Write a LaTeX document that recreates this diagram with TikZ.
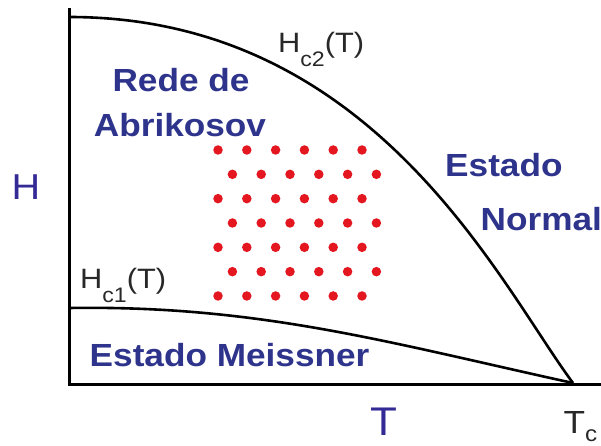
\documentclass[tikz,border=0pt]{standalone}
\usepackage{fontspec}
\setmainfont{Liberation Sans}
\definecolor{lbl}{RGB}{46,52,140}
\definecolor{axl}{RGB}{52,42,150}
\definecolor{dotred}{RGB}{228,22,32}
\definecolor{ink}{RGB}{40,40,40}
\newcommand{\wide}[1]{\scalebox{1.1}[1]{#1}}
\begin{document}
\begin{tikzpicture}[x=1pt,y=-1pt,
  phase/.style={font=\fontsize{32}{38}\selectfont\bfseries, text=lbl, inner sep=0pt},
  curvelbl/.style={font=\fontsize{28}{32}\selectfont, text=ink, inner sep=0pt},
  axislbl/.style={text=axl, inner sep=0pt},
  axisline/.style={line width=3pt, black},
  boundary/.style={line width=2.6pt, black},
  vortex/.style={circle, fill=dotred, inner sep=0pt, minimum size=9.5pt}]
\useasboundingbox (0,0) rectangle (601,446);
\fill[white] (0,0) rectangle (601,446);
% axes
\coordinate (ytop) at (69,8);
\coordinate (origin) at (69,384);
\coordinate (xend) at (601,384);
\coordinate (Tc) at (573,383);
\coordinate (hc2start) at (69,17);
\coordinate (hc1start) at (69,308);
\draw[axisline] (ytop) -- (origin) -- (xend);
% phase boundaries
\draw[boundary] (hc2start) .. controls (375,17) and (500,285) .. (Tc);
\draw[boundary] (hc1start) .. controls (260,305) and (390,343) .. (Tc);
% vortex lattice
\foreach \r in {0,...,6}{
  \foreach \c in {0,...,5}{
    \pgfmathsetmacro{\xx}{218+28.8*\c+14.4*mod(\r,2)}
    \pgfmathsetmacro{\yy}{150+24.33*\r}
    \node[vortex] (v\r\c) at (\xx,\yy) {};
  }
}
% phase labels
\node[phase, anchor=base] (rede) at (181,92) {\wide{Rede de}};
\node[phase, anchor=base] (abr) at (180,137) {\wide{Abrikosov}};
\node[phase, anchor=base west] (est) at (445,177) {\wide{Estado}};
\node[phase, anchor=base west] (norm) at (480.5,230) {\wide{Normal}};
\node[phase, anchor=base west] (meis) at (89.5,366) {\wide{Estado Meissner}};
% curve labels
\node[curvelbl, anchor=base west] (hc2lbl) at (278,53) {\wide{H\raisebox{-14pt}{\fontsize{21}{21}\selectfont c2}(T)}};
\node[curvelbl, anchor=base west] (hc1lbl) at (80,288) {\wide{H\raisebox{-14pt}{\fontsize{21}{21}\selectfont c1}(T)}};
% axis labels
\node[axislbl, font=\fontsize{36}{40}\selectfont, anchor=base] (Hlbl) at (26,199) {\wide{H}};
\node[axislbl, font=\fontsize{40}{44}\selectfont, anchor=base] (Tlbl) at (383.5,435) {\wide{T}};
\node[curvelbl, font=\fontsize{32}{36}\selectfont, anchor=base west] (Tclbl) at (563.5,433) {\wide{T\raisebox{-8pt}{\fontsize{22}{22}\selectfont c}}};
\end{tikzpicture}
\end{document}
